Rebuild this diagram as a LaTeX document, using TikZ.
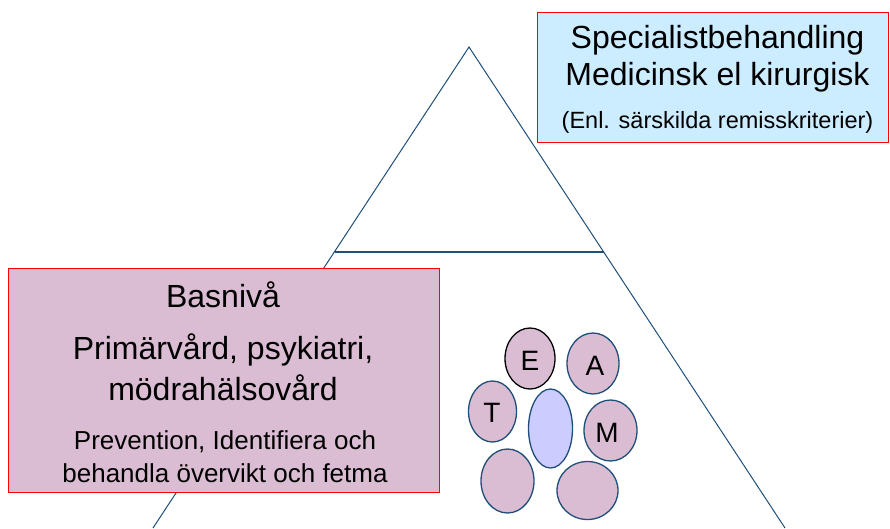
\documentclass[tikz,border=0pt]{standalone}
\usepackage{fontspec}
\setmainfont{Liberation Sans}
\definecolor{tri}{HTML}{1F4E79}
\definecolor{boxred}{HTML}{FF0000}
\definecolor{bluefill}{HTML}{CCECFF}
\definecolor{mauve}{HTML}{DBBDD3}
\definecolor{lilac}{HTML}{CCCCFF}
\tikzset{
  box/.style={draw=boxred, line width=1pt, rectangle, inner sep=0pt, anchor=north west},
  blob/.style={draw=tri, line width=1.3pt, ellipse, fill=mauve, inner sep=0pt},
  big/.style={font=\fontsize{32}{36}\selectfont, inner sep=0pt},
  mid/.style={font=\fontsize{23.5}{28}\selectfont, inner sep=0pt},
  mid2/.style={font=\fontsize{26}{30}\selectfont, inner sep=0pt},
  letter/.style={font=\fontsize{28}{30}\selectfont, inner sep=0pt},
}
\usetikzlibrary{shapes.geometric}
\begin{document}
\begin{tikzpicture}[x=1pt,y=-1pt]
\useasboundingbox (0,0) rectangle (890,528);
% triangle
\coordinate (apex) at (469,47);
\coordinate (bl) at (153,528);
\coordinate (br) at (785,528);
\coordinate (ml) at (334.5,252);
\coordinate (mr) at (603.5,252);
\draw[tri, line width=1pt] (bl) -- (apex) -- (br);
\draw[tri, line width=1.2pt] (ml) -- (mr);
% top-right box
\node[box, fill=bluefill, minimum width=351pt, minimum height=130pt] (spec) at (537,12) {};
\node[big] (s1) at (717.5,40) {Specialistbehandling};
\node[big] (s2) at (717.5,77) {Medicinsk el kirurgisk};
\node[mid] (s3) at (717.5,122) {(Enl. särskilda remisskriterier)};
% left box
\node[box, fill=mauve, minimum width=431pt, minimum height=224pt] (bas) at (8,268) {};
\node[big] (b1) at (223,295) {Basnivå};
\node[big] (b2) at (223,350) {Primärvård, psykiatri,};
\node[big] (b3) at (223,388) {mödrahälsovård};
\node[mid2] (b4) at (225,442) {Prevention, Identifiera och};
\node[mid2] (b5) at (225,473) {behandla övervikt och fetma};
% team ellipses
\node[blob, draw=black, minimum width=50pt, minimum height=61pt] (e) at (530,358.5) {};
\node[letter] (et) at (530,361) {E};
\node[blob, minimum width=52pt, minimum height=61pt] (a) at (593,363.5) {};
\node[letter] (at) at (595,366) {A};
\node[blob, minimum width=48pt, minimum height=61pt] (t) at (492.5,411.5) {};
\node[letter] (tt) at (492,413) {T};
\node[blob, fill=lilac, minimum width=44pt, minimum height=79pt] (c) at (550.5,428.5) {};
\node[blob, minimum width=53pt, minimum height=61pt] (m) at (610.5,430.5) {};
\node[letter] (mt) at (607,433) {M};
\node[blob, minimum width=53pt, minimum height=64pt] (bl1) at (507.5,481) {};
\node[blob, minimum width=61pt, minimum height=58pt] (br1) at (587.5,490.5) {};
\end{tikzpicture}
\end{document}
